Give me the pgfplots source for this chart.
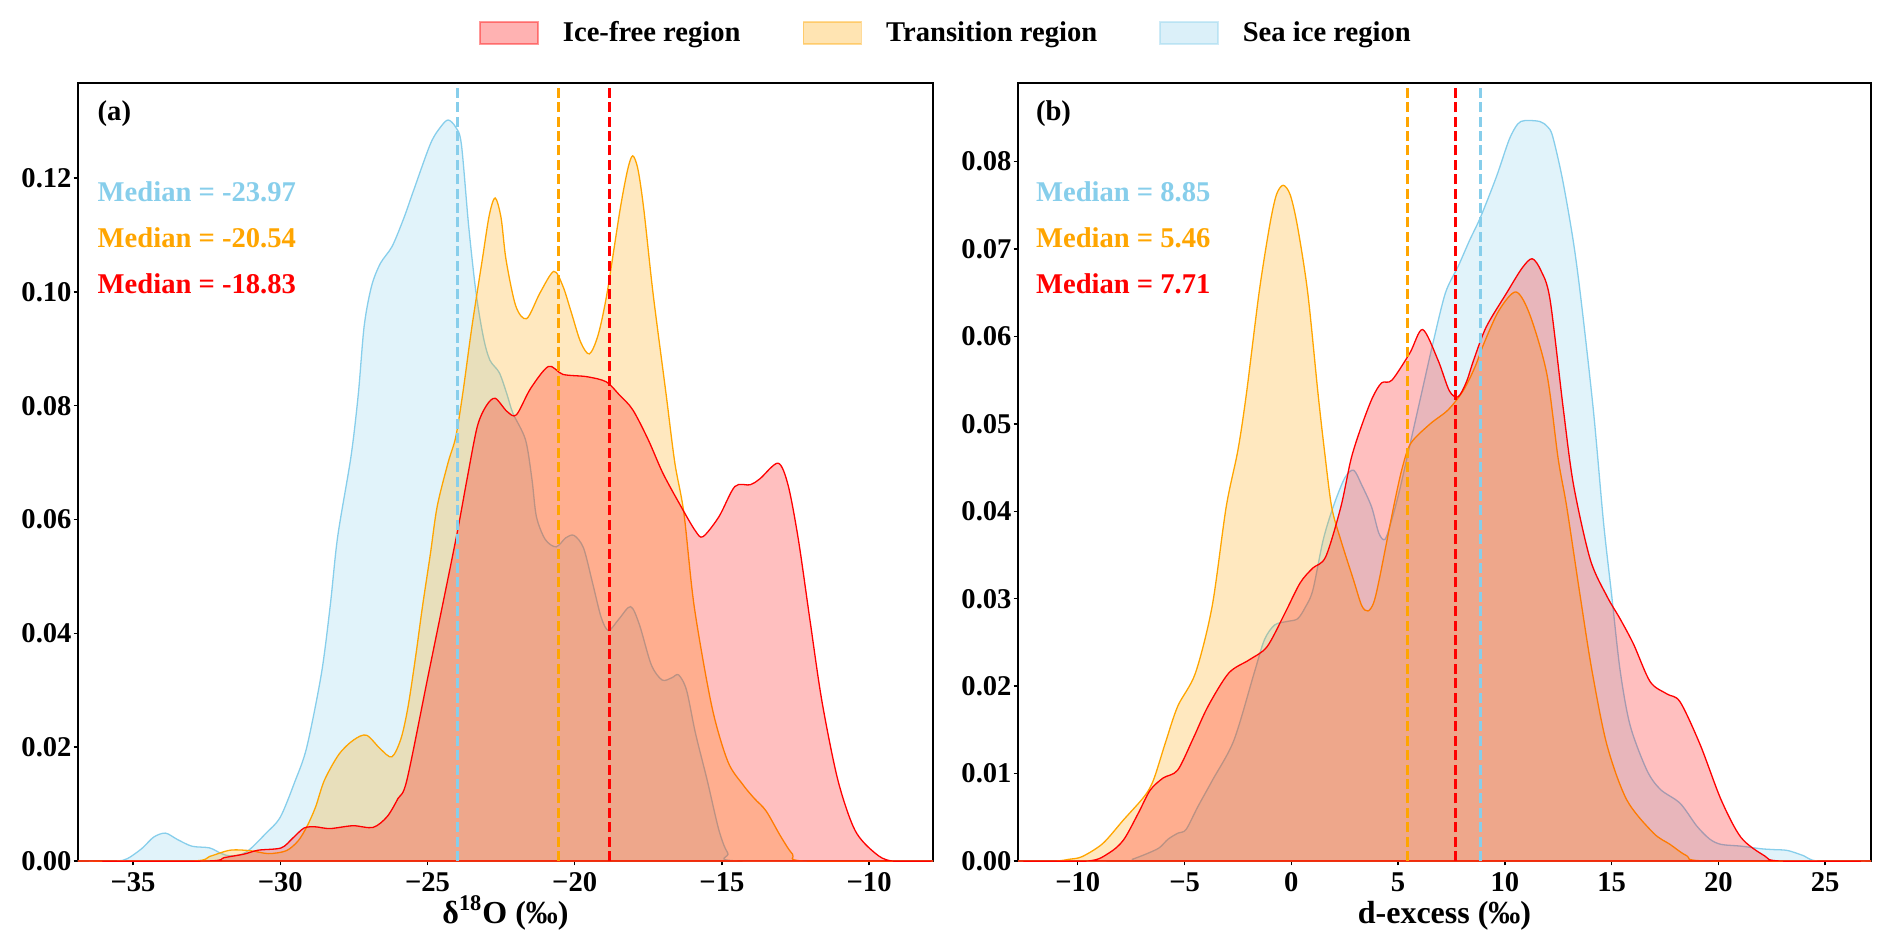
\documentclass[border=0pt]{standalone}
\usepackage{fontspec}
\setmainfont{Liberation Serif}
\usepackage{pgfplots}
\pgfplotsset{compat=1.18}
\definecolor{cIce}{RGB}{255,0,0}
\definecolor{cTr}{RGB}{255,165,0}
\definecolor{cSea}{RGB}{135,206,235}
\newcommand\tk{\fontsize{14.3pt}{17pt}\selectfont\bfseries}
\newcommand\lb{\fontsize{16pt}{19pt}\selectfont\bfseries}
\pgfplotsset{
 kde/.style={draw=#1, fill=#1, fill opacity=0.25, line width=0.65pt, smooth, tension=0.5, forget plot},
 med/.style={draw=#1, line width=1.5pt, dash pattern=on 5pt off 2.2pt, forget plot},
 panel/.style={scale only axis, height=389pt, anchor=south west, ymin=0,
  axis line style={line width=0.7pt}, tick align=outside, major tick length=2.2pt,
  tick style={black, line width=0.7pt}, tick pos=left,
  scaled y ticks=false, scaled x ticks=false,
  ticklabel style={font=\tk}, yticklabel style={xshift=2.5pt}, label style={font=\lb},
  xlabel style={at={(axis description cs:0.5,-0.0797)}, anchor=base, inner sep=0.5pt},
  clip=true},
}
\begin{document}
\begin{tikzpicture}[font=\bfseries]
\path[use as bounding box] (0,0) rectangle (946pt,475pt);
% ---------------- left panel ----------------
\begin{axis}[panel, at={(39pt,44.5pt)}, width=427.5pt,
 xmin=-36.87, xmax=-7.83, ymax=0.1367,
 xtick={-35,-30,-25,-20,-15,-10}, xticklabels={−35,−30,−25,−20,−15,−10},
 ytick={0,0.02,0.04,0.06,0.08,0.1,0.12}, yticklabels={0.00,0.02,0.04,0.06,0.08,0.10,0.12},
 xlabel={δ\textsuperscript{18}O (‰)},
 legend style={at={(1.0164,1.064)}, anchor=center, draw=none, fill=none, font=\tk,
   /tikz/every odd column/.append style={column sep=10pt},
   /tikz/every even column/.append style={column sep=29pt}},
 legend columns=3,
 legend image code/.code={\draw[#1] (0pt,-5.5pt) rectangle (29pt,5.5pt);},
]
\addlegendimage{draw=cIce, fill=cIce, fill opacity=0.3, draw opacity=0.4, line width=0.8pt}
\addlegendentry{Ice-free region}
\addlegendimage{draw=cTr, fill=cTr, fill opacity=0.3, draw opacity=0.4, line width=0.8pt}
\addlegendentry{Transition region}
\addlegendimage{draw=cSea, fill=cSea, fill opacity=0.3, draw opacity=0.4, line width=0.8pt}
\addlegendentry{Sea ice region}

\addplot[kde=cSea] coordinates {(-36.9,0) (-35.6,0) (-35.2,0.0004) (-34.7,0.0022) (-34.3,0.0042) (-33.9,0.0049) (-33.5,0.0038) (-33.0,0.0026) (-32.4,0.0023) (-32.0,0.0013) (-31.7,0.0009) (-31.3,0.0012) (-31.0,0.0022) (-30.5,0.0048) (-30.0,0.0077) (-29.5,0.014) (-29.1,0.020) (-28.6,0.033) (-28.3,0.045) (-28.05,0.057) (-27.6,0.071) (-27.35,0.082) (-27.15,0.094) (-26.9,0.101) (-26.6,0.105) (-26.2,0.108) (-25.8,0.113) (-25.5,0.1174) (-24.9,0.126) (-24.55,0.129) (-24.3,0.1302) (-24.05,0.1290) (-23.85,0.126) (-23.6,0.1115) (-23.35,0.0998) (-23.1,0.092) (-22.88,0.088) (-22.56,0.0858) (-22.3,0.082) (-22.1,0.0787) (-21.67,0.074) (-21.45,0.067) (-21.3,0.0605) (-21.0,0.0565) (-20.63,0.0552) (-20.3,0.0568) (-20.02,0.0572) (-19.7,0.055) (-19.4,0.049) (-19.1,0.0428) (-18.85,0.0405) (-18.5,0.0425) (-18.1,0.0447) (-17.8,0.0415) (-17.4,0.0345) (-17.03,0.0318) (-16.7,0.0322) (-16.47,0.0327) (-16.2,0.0300) (-15.9,0.0225) (-15.5,0.0142) (-15.1,0.0054) (-14.8,0.0014) (-14.4,0) (-7.8,0)} \closedcycle;

\addplot[kde=cTr] coordinates {(-36.9,0) (-33.0,0) (-32.4,0.0008) (-31.7,0.0019) (-31.0,0.0018) (-30.4,0.0013) (-29.8,0.0018) (-29.4,0.0035) (-29.1,0.006) (-28.8,0.0095) (-28.5,0.0142) (-28.0,0.0188) (-27.5,0.0213) (-27.07,0.0221) (-26.6,0.0197) (-26.21,0.0183) (-25.9,0.0215) (-25.66,0.0271) (-25.4,0.036) (-25.17,0.0447) (-24.9,0.054) (-24.67,0.0623) (-24.3,0.070) (-24.04,0.0745) (-23.8,0.0822) (-23.49,0.0939) (-23.14,0.1056) (-22.9,0.1135) (-22.7,0.1165) (-22.5,0.113) (-22.33,0.1056) (-22.0,0.0975) (-21.63,0.0953) (-21.18,0.0998) (-20.71,0.1036) (-20.4,0.101) (-20.11,0.0963) (-19.8,0.0912) (-19.5,0.0891) (-19.2,0.0925) (-18.9,0.0998) (-18.46,0.1144) (-18.2,0.1215) (-18.03,0.1239) (-17.85,0.1215) (-17.65,0.1144) (-17.34,0.0998) (-16.9,0.0822) (-16.6,0.070) (-16.29,0.0611) (-15.94,0.0447) (-15.34,0.0271) (-14.8,0.0175) (-14.3,0.0135) (-13.9,0.011) (-13.5,0.0088) (-13.0,0.0043) (-12.6,0.0012) (-12.2,0) (-7.8,0)} \closedcycle;

\addplot[kde=cIce] coordinates {(-36.9,0) (-32.5,0) (-31.9,0.0006) (-31.24,0.0012) (-30.75,0.0019) (-29.97,0.0023) (-29.58,0.004) (-29.19,0.0058) (-28.8,0.006) (-28.31,0.0057) (-27.53,0.0062) (-26.85,0.0059) (-26.37,0.0078) (-26.0,0.011) (-25.7,0.0142) (-24.96,0.033) (-24.04,0.0564) (-23.66,0.067) (-23.31,0.0763) (-23.0,0.080) (-22.7,0.0813) (-22.3,0.079) (-21.98,0.0784) (-21.5,0.083) (-20.89,0.0869) (-20.4,0.0855) (-19.59,0.0851) (-18.93,0.0842) (-18.5,0.082) (-18.03,0.0793) (-17.5,0.074) (-17.0,0.0681) (-16.39,0.0623) (-15.9,0.058) (-15.64,0.057) (-15.1,0.0605) (-14.56,0.0658) (-14.04,0.0661) (-13.7,0.0672) (-13.09,0.0699) (-12.75,0.066) (-12.4,0.0564) (-12.0,0.042) (-11.6,0.028) (-11.06,0.0142) (-10.48,0.0054) (-9.8,0.0014) (-9.22,0) (-7.8,0)} \closedcycle;

\addplot[med=cSea] coordinates {(-23.97,0) (-23.97,0.2)};
\addplot[med=cTr] coordinates {(-20.54,0) (-20.54,0.2)};
\addplot[med=cIce] coordinates {(-18.83,0) (-18.83,0.2)};

\node[anchor=base west, inner sep=0, font=\tk] at (rel axis cs:0.0226,0.9515) {(a)};
\node[anchor=base west, inner sep=0, font=\tk, text=cSea] at (rel axis cs:0.0226,0.8483) {Median = -23.97};
\node[anchor=base west, inner sep=0, font=\tk, text=cTr] at (rel axis cs:0.0226,0.7892) {Median = -20.54};
\node[anchor=base west, inner sep=0, font=\tk, text=cIce] at (rel axis cs:0.0226,0.7297) {Median = -18.83};
\end{axis}
% ---------------- right panel ----------------
\begin{axis}[panel, at={(509pt,44.5pt)}, width=426.5pt,
 xmin=-12.8, xmax=27.15, ymax=0.089,
 xtick={-10,-5,0,5,10,15,20,25}, xticklabels={−10,−5,0,5,10,15,20,25},
 ytick={0,0.01,0.02,0.03,0.04,0.05,0.06,0.07,0.08}, yticklabels={0.00,0.01,0.02,0.03,0.04,0.05,0.06,0.07,0.08},
 xlabel={d-excess (‰)},
]
\addplot[kde=cSea] coordinates {(-12.8,0) (-7.8,0) (-7.44,0.0002) (-6.8,0.0008) (-6.19,0.0015) (-5.77,0.0025) (-5.3,0.0032) (-4.93,0.0036) (-4.38,0.0062) (-3.68,0.0093) (-2.69,0.0138) (-1.74,0.0215) (-1.26,0.0253) (-0.78,0.027) (-0.2,0.0274) (0.29,0.0277) (0.65,0.029) (1.01,0.031) (1.49,0.0367) (1.96,0.0405) (2.5,0.0438) (2.92,0.0447) (3.3,0.043) (3.76,0.0405) (4.1,0.0375) (4.39,0.0368) (4.7,0.039) (5.07,0.0424) (5.61,0.0482) (6.1,0.0535) (6.63,0.0592) (7.22,0.065) (7.81,0.068) (8.35,0.071) (8.87,0.0737) (9.61,0.0783) (10.2,0.0825) (10.6,0.0843) (10.93,0.0847) (11.64,0.0846) (12.0,0.0840) (12.24,0.0829) (12.7,0.078) (13.2,0.071) (13.57,0.0642) (14.15,0.0515) (14.62,0.0388) (15.0,0.0305) (15.4,0.0218) (15.87,0.0155) (16.65,0.0104) (17.28,0.0082) (18.21,0.0066) (18.99,0.004) (19.6,0.0025) (20.13,0.0019) (21.06,0.0017) (22.0,0.0014) (22.62,0.0013) (23.25,0.0012) (24.0,0.0006) (24.66,0) (27.2,0)} \closedcycle;

\addplot[kde=cTr] coordinates {(-12.8,0) (-11.06,0) (-10.4,0.0002) (-9.8,0.0005) (-8.83,0.002) (-7.86,0.0047) (-6.88,0.0074) (-6.45,0.0093) (-5.9,0.0135) (-5.32,0.0177) (-4.49,0.0215) (-3.71,0.0291) (-3.05,0.0405) (-2.5,0.047) (-2.1,0.0535) (-1.51,0.065) (-1.02,0.0726) (-0.7,0.0762) (-0.38,0.0773) (-0.05,0.0762) (0.29,0.0726) (0.77,0.065) (1.25,0.0535) (1.55,0.047) (1.89,0.0405) (2.32,0.0367) (2.92,0.0321) (3.3,0.0292) (3.59,0.0286) (3.85,0.0295) (4.11,0.0321) (4.79,0.0405) (5.2,0.045) (5.6,0.0478) (6.5,0.0500) (7.34,0.0516) (8.05,0.0538) (8.6,0.0565) (9.02,0.0592) (9.73,0.063) (10.52,0.0651) (11.17,0.0625) (11.97,0.0557) (12.5,0.046) (12.9,0.0405) (13.53,0.0303) (14.08,0.0218) (14.78,0.0133) (15.71,0.007) (16.96,0.0032) (17.74,0.0019) (18.52,0.0006) (19.46,0) (27.2,0)} \closedcycle;

\addplot[kde=cIce] coordinates {(-12.8,0) (-9.53,0) (-8.55,0.0009) (-7.86,0.0024) (-7.16,0.0055) (-6.61,0.0081) (-6.0,0.0095) (-5.32,0.0104) (-4.6,0.014) (-3.9,0.0177) (-2.93,0.0215) (-1.98,0.023) (-1.14,0.0245) (-0.31,0.0283) (0.41,0.0318) (1.0,0.0335) (1.61,0.0348) (2.32,0.0405) (2.8,0.046) (3.28,0.0497) (3.8,0.053) (4.23,0.0547) (4.71,0.0550) (5.55,0.0581) (6.15,0.0608) (6.87,0.0573) (7.4,0.0538) (7.81,0.0531) (8.2,0.0548) (8.54,0.0573) (9.13,0.0611) (10.09,0.065) (10.8,0.0678) (11.28,0.0689) (11.7,0.0675) (12.12,0.0642) (12.75,0.0515) (13.22,0.043) (14.0,0.0345) (14.78,0.0303) (15.4,0.0277) (16.03,0.0248) (16.81,0.0205) (17.6,0.0191) (18.21,0.0182) (19.15,0.0133) (20.13,0.007) (21.06,0.0027) (22.16,0.0006) (22.9,0) (27.2,0)} \closedcycle;

\addplot[med=cTr] coordinates {(5.46,0) (5.46,0.2)};
\addplot[med=cIce] coordinates {(7.71,0) (7.71,0.2)};
\addplot[med=cSea] coordinates {(8.85,0) (8.85,0.2)};

\node[anchor=base west, inner sep=0, font=\tk] at (rel axis cs:0.0207,0.9515) {(b)};
\node[anchor=base west, inner sep=0, font=\tk, text=cSea] at (rel axis cs:0.0207,0.8483) {Median = 8.85};
\node[anchor=base west, inner sep=0, font=\tk, text=cTr] at (rel axis cs:0.0207,0.7892) {Median = 5.46};
\node[anchor=base west, inner sep=0, font=\tk, text=cIce] at (rel axis cs:0.0207,0.7297) {Median = 7.71};
\end{axis}
\end{tikzpicture}
\end{document}
